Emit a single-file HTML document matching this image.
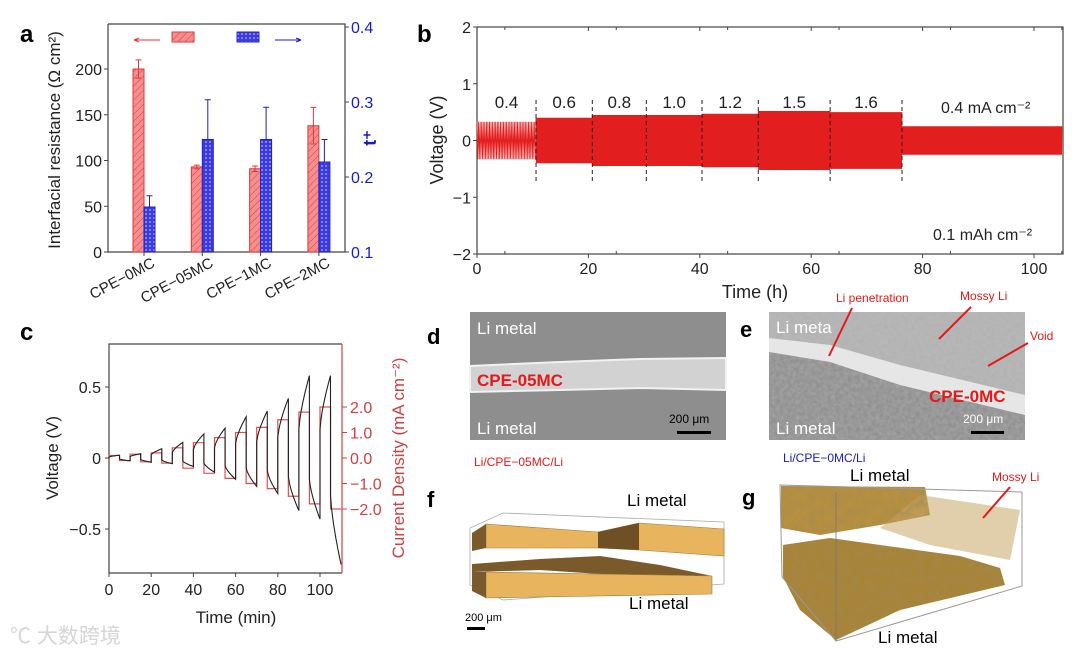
<!DOCTYPE html>
<html><head><meta charset="utf-8"><style>
html,body{margin:0;padding:0;background:#fff}
svg{display:block;font-family:"Liberation Sans","Noto Sans CJK SC",sans-serif}
</style></head><body>
<svg id="fig" width="1080" height="656" viewBox="0 0 1080 656" xmlns="http://www.w3.org/2000/svg">
<defs>
<pattern id="hatch" width="5" height="5" patternUnits="userSpaceOnUse" patternTransform="rotate(45)">
<rect width="5" height="5" fill="#f58f8f"/><line x1="0" y1="0" x2="0" y2="5" stroke="#e03a3a" stroke-width="1"/></pattern>
<pattern id="cross" width="4" height="4" patternUnits="userSpaceOnUse">
<rect width="4" height="4" fill="#3a3ae8"/><circle cx="2" cy="2" r="1" fill="#9a9af5"/></pattern>
<filter id="noise" x="0" y="0" width="100%" height="100%">
<feTurbulence type="fractalNoise" baseFrequency="0.25" numOctaves="2" seed="3"/>
<feColorMatrix type="matrix" values="0 0 0 0 0.55  0 0 0 0 0.55  0 0 0 0 0.55  0 0 0 0.5 0"/>
<feComposite in2="SourceGraphic" operator="in"/>
</filter>
<filter id="goldnoise" x="0" y="0" width="100%" height="100%">
<feTurbulence type="fractalNoise" baseFrequency="0.12" numOctaves="3" seed="7"/>
<feColorMatrix type="matrix" values="0 0 0 0 0.35  0 0 0 0 0.25  0 0 0 0 0.08  0 0 0 0.9 -0.2"/>
<feComposite in2="SourceGraphic" operator="in"/>
</filter>
</defs>
<g id="pa"></g>
<g id="pb"></g>
<g id="pc"></g>
<g id="pimg">
<text x="427" y="344" font-size="22" font-weight="bold">d</text>
<rect x="470" y="312" width="256" height="128" fill="#8e8e8e"/>
<path d="M470 366 L560 362 L640 359 L726 358 L726 390 L640 388 L560 390 L470 392 Z" fill="#d2d2d2" stroke="#f2f2f2" stroke-width="2"/>
<text x="477" y="334" font-size="17" fill="#fff">Li metal</text>
<text x="477" y="386" font-size="17" fill="#e41a1a" font-weight="bold">CPE-05MC</text>
<text x="477" y="434" font-size="17" fill="#fff">Li metal</text>
<text x="669" y="423" font-size="12" fill="#000">200 μm</text>
<rect x="677" y="431" width="34" height="3" fill="#000"/>
<text x="740" y="337" font-size="22" font-weight="bold">e</text>
<rect x="769" y="312" width="256" height="128" fill="#8a8a8a"/>
<path d="M769 312 L1025 312 L1025 400 L900 370 L769 350 Z" fill="#b0b0b0"/>
<rect x="769" y="312" width="256" height="128" fill="#888" filter="url(#noise)"/>
<path d="M769 352 L830 362 L900 385 L1025 415 L1025 395 L900 365 L830 345 L769 338 Z" fill="#e6e6e6"/>
<text x="776" y="333" font-size="17" fill="#fff">Li meta</text>
<text x="929" y="402" font-size="17" fill="#e41a1a" font-weight="bold">CPE-0MC</text>
<text x="776" y="434" font-size="17" fill="#fff">Li metal</text>
<text x="963" y="423" font-size="12" fill="#fff">200 μm</text>
<rect x="971" y="431" width="33" height="3" fill="#000"/>
<text x="836" y="302" font-size="12" fill="#e41a1a">Li penetration</text>
<line x1="852" y1="308" x2="829" y2="356" stroke="#e41a1a" stroke-width="2"/>
<text x="960" y="300" font-size="12" fill="#e41a1a">Mossy Li</text>
<line x1="971" y1="307" x2="939" y2="339" stroke="#e41a1a" stroke-width="2"/>
<text x="1030" y="340" font-size="12" fill="#e41a1a">Void</text>
<line x1="1028" y1="343" x2="988" y2="366" stroke="#e41a1a" stroke-width="2"/>
<text x="474" y="466" font-size="12" fill="#e41a1a">Li/CPE−05MC/Li</text>
<text x="783" y="462" font-size="12" fill="#1a1ad0">Li/CPE−0MC/Li</text>
<text x="427" y="507" font-size="22" font-weight="bold">f</text>
<text x="627" y="506" font-size="17">Li metal</text>
<polygon points="470,528 503,513 724,522 724,584 503,600 470,585" fill="none" stroke="#aaa" stroke-width="0.8"/>
<polygon points="486,524 598,532 639,523 724,529 724,556 639,550 598,548 486,548" fill="#e8b45e" stroke="#9a7a40" stroke-width="0.6"/>
<polygon points="472,533 486,524 486,548 472,551" fill="#7a5a2a"/>
<polygon points="598,532 639,523 639,550 598,548" fill="#6f5024"/>
<polygon points="472,564 540,559 600,556 660,565 712,576 600,574 540,570 472,572" fill="#7a5a2a"/>
<polygon points="486,572 712,576 712,594 540,597 486,598" fill="#e8b45e" stroke="#9a7a40" stroke-width="0.6"/>
<polygon points="472,572 486,572 486,598 472,591" fill="#7a5a2a"/>
<text x="629" y="609" font-size="17">Li metal</text>
<text x="465" y="621" font-size="11">200 μm</text>
<rect x="467" y="627" width="18" height="3" fill="#000"/>
<text x="742" y="505" font-size="22" font-weight="bold">g</text>
<text x="850" y="481" font-size="17">Li metal</text>
<polygon points="781,486 925,487 930,515 880,525 820,535 781,528" fill="#b8903e"/>
<polygon points="920,495 1020,510 1010,560 930,545 880,528" fill="#c9a566" opacity="0.55"/>
<polygon points="783,545 830,538 880,545 960,556 1000,568 1005,585 900,610 836,640 800,610 783,577" fill="#a98336"/>
<polygon points="781,486 925,487 930,515 880,525 820,535 781,528" fill="#b8903e" filter="url(#goldnoise)"/>
<polygon points="783,545 830,538 880,545 960,556 1000,568 1005,585 900,610 836,640 800,610 783,577" fill="#a98336" filter="url(#goldnoise)"/>
<polygon points="780,485 1022,492 1022,586 836,641 782,577" fill="none" stroke="#999" stroke-width="1"/>
<line x1="836" y1="492" x2="836" y2="641" stroke="#777" stroke-width="0.8"/>
<text x="992" y="481" font-size="12" fill="#e41a1a">Mossy Li</text>
<line x1="1010" y1="487" x2="983" y2="518" stroke="#e41a1a" stroke-width="2"/>
<text x="878" y="643" font-size="17">Li metal</text>
</g>
<text x="10" y="643" font-size="21" fill="#d6d6d6">℃ 大数跨境</text>
</svg>
<script>
// ---------- Panel a data ----------
const catsA = ["CPE−0MC","CPE−05MC","CPE−1MC","CPE−2MC"];
const resist = [200, 93, 91, 138];
const resistErr = [10, 2, 3, 20];
const tplus = [0.16, 0.25, 0.25, 0.22];
const tplusErr = [0.015, 0.053, 0.043, 0.03];
const leftTicksA = [0,50,100,150,200];
const rightTicksA = [0.1,0.2,0.3,0.4];
// ---------- Panel b data ----------
const segStart = [0, 10.6, 20.7, 30.4, 40.4, 50.5, 63.4, 76.3];
const segEnd   = [10.6, 20.7, 30.4, 40.4, 50.5, 63.4, 76.3, 105];
const segAmp   = [0.33, 0.4, 0.45, 0.45, 0.47, 0.52, 0.5, 0.25];
const segLabels = ["0.4","0.6","0.8","1.0","1.2","1.5","1.6"];
const xTicksB = [0,20,40,60,80,100];
const yTicksB = [-2,-1,0,1,2];
// ---------- Panel c data ----------
const cycleStart = [0,10,20,30,40,50,60,70,80,90,100];
const currentLvl = [0.1,0.15,0.2,0.4,0.6,0.8,1.0,1.2,1.5,1.8,2.0];
const vPeakPos = [0.02,0.03,0.065,0.11,0.17,0.21,0.29,0.33,0.42,0.58,0.58];
const vPeakNeg = [-0.02,-0.03,-0.04,-0.06,-0.1,-0.15,-0.2,-0.25,-0.37,-0.43,-0.75];
const xTicksC = [0,20,40,60,80,100];
const yTicksC = [-0.5,0,0.5];
const rTicksC = [-2.0,-1.0,0.0,1.0,2.0];

const NS="http://www.w3.org/2000/svg";
function mk(parent,tag,attrs,txt){const e=document.createElementNS(NS,tag);for(const k in attrs)e.setAttribute(k,attrs[k]);if(txt!==undefined)e.textContent=txt;parent.appendChild(e);return e;}

// ===== Panel a =====
(function(){
const g=document.getElementById('pa');
const X0=108,X1=345,Y0=252,Y1=24;
const yL=v=>Y0-v*0.915;
const yR=v=>Y0-(v-0.1)*750;
const xC=i=>144+i*58.3;
let t=mk(g,'text',{x:20,y:42,'font-size':24,'font-weight':'bold'},'a');


let ax=mk(g,'path',{d:`M${X0} ${Y1} V${Y0} H${X1} V${Y1} H${X0}`,fill:'none',stroke:'#444','stroke-width':1.2});


leftTicksA.forEach(v=>{const y=yL(v);mk(g,'line',{x1:X0-4,y1:y,x2:X0,y2:y,stroke:'#444'});
 const l=mk(g,'text',{x:X0-6,y:y+6,'font-size':16,'text-anchor':'end',fill:'#222'},String(v));
 
 });
rightTicksA.forEach(v=>{const y=yR(v);mk(g,'line',{x1:X1,y1:y,x2:X1+4,y2:y,stroke:'#444'});
 const l=mk(g,'text',{x:X1+6,y:y+6,'font-size':16,fill:'#1a1ad0'},v.toFixed(1));
 
 });
catsA.forEach((c,i)=>{
 const cx=xC(i);
 mk(g,'line',{x1:cx,y1:Y0,x2:cx,y2:Y0+4,stroke:'#444'});
 const r=mk(g,'rect',{x:cx-11,y:yL(resist[i]),width:11,height:Y0-yL(resist[i]),fill:'url(#hatch)',stroke:'#e03a3a'});
 
 
 mk(g,'path',{d:`M${cx-5.5} ${yL(resist[i])} V${yL(resist[i]+resistErr[i])} M${cx-8.5} ${yL(resist[i]+resistErr[i])} H${cx-2.5} M${cx-5.5} ${yL(resist[i])} V${yL(resist[i]-resistErr[i])} M${cx-8.5} ${yL(resist[i]-resistErr[i])} H${cx-2.5}`,stroke:'#e03a3a',fill:'none'});
 const b=mk(g,'rect',{x:cx,y:yR(tplus[i]),width:11,height:Y0-yR(tplus[i]),fill:'url(#cross)',stroke:'#2020c0'});
 
 
 mk(g,'path',{d:`M${cx+5.5} ${yR(tplus[i])} V${yR(tplus[i]+tplusErr[i])} M${cx+2.5} ${yR(tplus[i]+tplusErr[i])} H${cx+8.5}`,stroke:'#2020c0',fill:'none'});
 const l=mk(g,'text',{x:cx+12,y:Y0+14,'font-size':15,'text-anchor':'end',transform:`rotate(-28 ${cx+12} ${Y0+14})`,fill:'#222'},c);
 
 
});
const yl=mk(g,'text',{x:0,y:0,'font-size':17,'text-anchor':'middle',transform:`translate(60 140) rotate(-90)`,fill:'#222'},'Interfacial resistance (Ω cm²)');


const yr=mk(g,'text',{x:0,y:0,'font-size':18,'font-weight':'bold','text-anchor':'middle',transform:`translate(376 138) rotate(-90)`,fill:'#1a1ad0'},'t⁺');


mk(g,'path',{d:'M134 40 H160 M134 40 l5 -2 M134 40 l5 2',stroke:'#e03a3a',fill:'none'});
const lg1=mk(g,'rect',{x:172,y:32,width:22,height:10,fill:'url(#hatch)',stroke:'#e03a3a'});


const lg2=mk(g,'rect',{x:237,y:32,width:22,height:10,fill:'url(#cross)',stroke:'#2020c0'});


mk(g,'path',{d:'M275 40 H301 M301 40 l-5 -2 M301 40 l-5 2',stroke:'#2020c0',fill:'none'});
})();

// ===== Panel b =====
(function(){
const g=document.getElementById('pb');
const X0=477,X1=1063,Y0=254,Y1=27;
const xs=v=>X0+v*5.57;
const ys=v=>140.5-v*56.75;
let t=mk(g,'text',{x:417,y:42,'font-size':24,'font-weight':'bold'},'b');


let ax=mk(g,'rect',{x:X0,y:Y1,width:X1-X0,height:Y0-Y1,fill:'none',stroke:'#444','stroke-width':1.2});


xTicksB.forEach(v=>{const x=xs(v);mk(g,'line',{x1:x,y1:Y0,x2:x,y2:Y0+4,stroke:'#444'});mk(g,'line',{x1:x,y1:Y1,x2:x,y2:Y1+4,stroke:'#444'});
 mk(g,'line',{x1:x+27.85,y1:Y0,x2:x+27.85,y2:Y0-3,stroke:'#444'});mk(g,'line',{x1:x+27.85,y1:Y1,x2:x+27.85,y2:Y1+3,stroke:'#444'});
 const l=mk(g,'text',{x:x,y:Y0+20,'font-size':16,'text-anchor':'middle',fill:'#222'},String(v));
 
 });
yTicksB.forEach(v=>{const y=ys(v);mk(g,'line',{x1:X0-4,y1:y,x2:X0,y2:y,stroke:'#444'});
 const l=mk(g,'text',{x:X0-6,y:y+6,'font-size':16,'text-anchor':'end',fill:'#222'},v<0?'−'+(-v):String(v));
 
 });
segStart.forEach((s,i)=>{
 let d='';const per=i===0?0.28:0.14;let k=0;
 for(let tt=s;tt<=segEnd[i];tt+=per/2,k++){d+=(k?'L':'M')+xs(tt).toFixed(1)+' '+ys(k%2?-segAmp[i]:segAmp[i]).toFixed(1);}
 const p=mk(g,'path',{d,fill:'none',stroke:'#e31e1e','stroke-width':i===0?0.8:1});
 
 
 if(i<segLabels.length){
  const l=mk(g,'text',{x:xs((s+segEnd[i])/2),y:108,'font-size':17,'text-anchor':'middle',fill:'#222'},segLabels[i]);
  
  
  if(i>0) mk(g,'line',{x1:xs(s),y1:100,x2:xs(s),y2:184,stroke:'#222','stroke-dasharray':'4 3'});
 }
});
mk(g,'line',{x1:xs(segStart[7]),y1:100,x2:xs(segStart[7]),y2:184,stroke:'#222','stroke-dasharray':'4 3'});
const a1=mk(g,'text',{x:941,y:113,'font-size':16,fill:'#222'},'0.4 mA cm⁻²');


const a2=mk(g,'text',{x:933,y:240,'font-size':16,fill:'#222'},'0.1 mAh cm⁻²');


const xt=mk(g,'text',{x:755,y:298,'font-size':18,'text-anchor':'middle',fill:'#222'},'Time (h)');


const yt=mk(g,'text',{x:0,y:0,'font-size':18,'text-anchor':'middle',transform:'translate(443 140) rotate(-90)',fill:'#222'},'Voltage (V)');


})();

// ===== Panel c =====
(function(){
const g=document.getElementById('pc');
const X0=109,X1=342,Y0=573,Y1=344;
const xs=v=>X0+v*2.11;
const ys=v=>458-v*142;
const yc=v=>458-v*25.5;
let t=mk(g,'text',{x:20,y:340,'font-size':24,'font-weight':'bold'},'c');


let ax=mk(g,'path',{d:`M${X1} ${Y1} H${X0} V${Y0} H${X1}`,fill:'none',stroke:'#444','stroke-width':1.2});


mk(g,'line',{x1:X1,y1:Y1,x2:X1,y2:Y0,stroke:'#d04040','stroke-width':1.2});
xTicksC.forEach(v=>{const x=xs(v);mk(g,'line',{x1:x,y1:Y0,x2:x,y2:Y0+4,stroke:'#444'});
 const l=mk(g,'text',{x:x,y:Y0+22,'font-size':16,'text-anchor':'middle',fill:'#222'},String(v));
 
 });
yTicksC.forEach(v=>{const y=ys(v);mk(g,'line',{x1:X0-4,y1:y,x2:X0,y2:y,stroke:'#444'});
 const l=mk(g,'text',{x:X0-8,y:y+6,'font-size':16,'text-anchor':'end',fill:'#222'},v<0?'−'+(-v):String(v));
 
 });
rTicksC.forEach(v=>{const y=yc(v);mk(g,'line',{x1:X1,y1:y,x2:X1+5,y2:y,stroke:'#d04040'});
 const l=mk(g,'text',{x:X1+8,y:y+6,'font-size':16,fill:'#d04040'},v<0?'−'+(-v).toFixed(1):v.toFixed(1));
 
 });
let dc=`M${xs(0)} ${yc(0)}`;
cycleStart.forEach((s,i)=>{dc+=` V${yc(currentLvl[i])} H${xs(s+5)} V${yc(-currentLvl[i])} H${xs(s+10)}`;});
const cp=mk(g,'path',{d:dc,fill:'none',stroke:'#e05050','stroke-width':1.2});


let dv=`M${xs(0)} ${ys(0)}`;
cycleStart.forEach((s,i)=>{
 const p=vPeakPos[i],n=vPeakNeg[i];
 for(let k=0;k<=10;k++){const f=k/10;dv+=` L${xs(s+5*f).toFixed(1)} ${ys(p*(0.35+0.65*Math.pow(f,0.7))).toFixed(1)}`;}
 for(let k=0;k<=10;k++){const f=k/10;dv+=` L${xs(s+5+5*f).toFixed(1)} ${ys(n*(0.35+0.65*Math.pow(f,0.7))).toFixed(1)}`;}
});
const vp=mk(g,'path',{d:dv,fill:'none',stroke:'#222','stroke-width':1.1});


const xt=mk(g,'text',{x:236,y:623,'font-size':17,'text-anchor':'middle',fill:'#222'},'Time (min)');


const yt=mk(g,'text',{x:0,y:0,'font-size':17,'text-anchor':'middle',transform:'translate(58 458) rotate(-90)',fill:'#222'},'Voltage (V)');


const rt=mk(g,'text',{x:0,y:0,'font-size':17,'text-anchor':'middle',transform:'translate(404 458) rotate(-90)',fill:'#d04040'},'Current Density (mA cm⁻²)');


})();
</script>
</body></html>
